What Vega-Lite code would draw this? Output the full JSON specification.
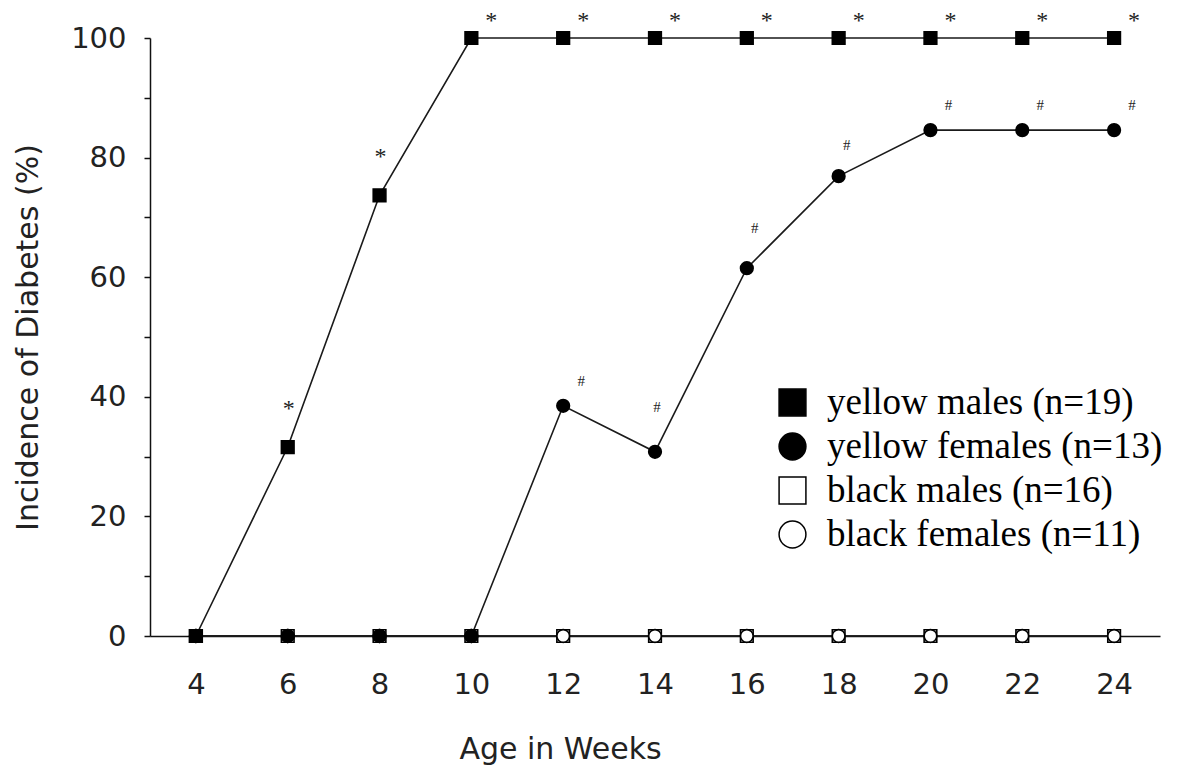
{
  "$schema": "https://vega.github.io/schema/vega-lite/v6.json",
  "width": 1010,
  "height": 598,
  "autosize": "none",
  "padding": {"left": 150, "top": 38, "right": 17, "bottom": 135},
  "background": "white",
  "config": {"view": {"stroke": null}},
  "data": {"values": [
    {"week": 4, "pct": 0, "group": "black males (n=16)"},
    {"week": 6, "pct": 0, "group": "black males (n=16)"},
    {"week": 8, "pct": 0, "group": "black males (n=16)"},
    {"week": 10, "pct": 0, "group": "black males (n=16)"},
    {"week": 12, "pct": 0, "group": "black males (n=16)"},
    {"week": 14, "pct": 0, "group": "black males (n=16)"},
    {"week": 16, "pct": 0, "group": "black males (n=16)"},
    {"week": 18, "pct": 0, "group": "black males (n=16)"},
    {"week": 20, "pct": 0, "group": "black males (n=16)"},
    {"week": 22, "pct": 0, "group": "black males (n=16)"},
    {"week": 24, "pct": 0, "group": "black males (n=16)"},
    {"week": 4, "pct": 0, "group": "black females (n=11)"},
    {"week": 6, "pct": 0, "group": "black females (n=11)"},
    {"week": 8, "pct": 0, "group": "black females (n=11)"},
    {"week": 10, "pct": 0, "group": "black females (n=11)"},
    {"week": 12, "pct": 0, "group": "black females (n=11)"},
    {"week": 14, "pct": 0, "group": "black females (n=11)"},
    {"week": 16, "pct": 0, "group": "black females (n=11)"},
    {"week": 18, "pct": 0, "group": "black females (n=11)"},
    {"week": 20, "pct": 0, "group": "black females (n=11)"},
    {"week": 22, "pct": 0, "group": "black females (n=11)"},
    {"week": 24, "pct": 0, "group": "black females (n=11)"},
    {"week": 4, "pct": 0, "group": "yellow females (n=13)"},
    {"week": 6, "pct": 0, "group": "yellow females (n=13)"},
    {"week": 8, "pct": 0, "group": "yellow females (n=13)"},
    {"week": 10, "pct": 0, "group": "yellow females (n=13)"},
    {"week": 12, "pct": 38.5, "group": "yellow females (n=13)"},
    {"week": 14, "pct": 30.8, "group": "yellow females (n=13)"},
    {"week": 16, "pct": 61.5, "group": "yellow females (n=13)"},
    {"week": 18, "pct": 76.9, "group": "yellow females (n=13)"},
    {"week": 20, "pct": 84.6, "group": "yellow females (n=13)"},
    {"week": 22, "pct": 84.6, "group": "yellow females (n=13)"},
    {"week": 24, "pct": 84.6, "group": "yellow females (n=13)"},
    {"week": 4, "pct": 0, "group": "yellow males (n=19)"},
    {"week": 6, "pct": 31.6, "group": "yellow males (n=19)"},
    {"week": 8, "pct": 73.7, "group": "yellow males (n=19)"},
    {"week": 10, "pct": 100, "group": "yellow males (n=19)"},
    {"week": 12, "pct": 100, "group": "yellow males (n=19)"},
    {"week": 14, "pct": 100, "group": "yellow males (n=19)"},
    {"week": 16, "pct": 100, "group": "yellow males (n=19)"},
    {"week": 18, "pct": 100, "group": "yellow males (n=19)"},
    {"week": 20, "pct": 100, "group": "yellow males (n=19)"},
    {"week": 22, "pct": 100, "group": "yellow males (n=19)"},
    {"week": 24, "pct": 100, "group": "yellow males (n=19)"}
  ]},
  "encoding": {
    "x": {
      "field": "week", "type": "quantitative",
      "scale": {"domain": [3, 25], "nice": false, "zero": false},
      "axis": {
        "values": [4, 6, 8, 10, 12, 14, 16, 18, 20, 22, 24],
        "title": "Age in Weeks",
        "grid": false, "ticks": false, "domainColor": "#111", "domainWidth": 1.5,
        "labelFont": "DejaVu Sans", "labelFontSize": 29, "labelColor": "#222",
        "labelPadding": 34,
        "titleFont": "DejaVu Sans", "titleFontSize": 30, "titleFontWeight": "normal", "titleColor": "#222",
        "titlePadding": 35, "titleX": 410, "titleAlign": "center"
      }
    },
    "y": {
      "field": "pct", "type": "quantitative",
      "scale": {"domain": [0, 100], "nice": false},
      "axis": {
        "values": [0, 10, 20, 30, 40, 50, 60, 70, 80, 90, 100],
        "labelExpr": "datum.value % 20 == 0 ? datum.label : ''",
        "title": "Incidence of Diabetes (%)",
        "grid": false, "tickSize": 6, "tickColor": "#111", "tickWidth": 1.5,
        "domainColor": "#111", "domainWidth": 1.5,
        "labelFont": "DejaVu Sans", "labelFontSize": 29, "labelColor": "#222",
        "labelPadding": 18,
        "titleFont": "DejaVu Sans", "titleFontSize": 30, "titleFontWeight": "normal", "titleColor": "#222",
        "titlePadding": 27
      }
    }
  },
  "layer": [
    {
      "mark": {"type": "line", "stroke": "#1a1a1a", "strokeWidth": 1.6},
      "encoding": {"detail": {"field": "group"}, "order": {"field": "week"}}
    },
    {
      "mark": {"type": "point", "filled": true, "stroke": "black", "strokeWidth": 1.6, "opacity": 1, "size": 160},
      "encoding": {
        "shape": {
          "field": "group", "type": "nominal",
          "scale": {
            "domain": ["yellow males (n=19)", "yellow females (n=13)", "black males (n=16)", "black females (n=11)"],
            "range": ["square", "circle", "square", "circle"]
          },
          "legend": {
            "title": null, "orient": "none", "legendX": 624, "legendY": 346,
            "padding": 0, "symbolSize": 720,
            "labelFont": "Liberation Serif", "labelFontSize": 37, "labelColor": "black",
            "labelOffset": 16, "rowPadding": 6, "labelLimit": 500,
            "encode": {"symbols": {"update": {"stroke": {"value": "black"}, "strokeWidth": {"value": 1.5}}}}
          }
        },
        "fill": {
          "field": "group", "type": "nominal",
          "scale": {
            "domain": ["yellow males (n=19)", "yellow females (n=13)", "black males (n=16)", "black females (n=11)"],
            "range": ["black", "black", "white", "white"]
          },
          "legend": {
            "title": null, "orient": "none", "legendX": 624, "legendY": 346,
            "padding": 0, "symbolSize": 720,
            "labelFont": "Liberation Serif", "labelFontSize": 37, "labelColor": "black",
            "labelOffset": 16, "rowPadding": 6, "labelLimit": 500,
            "encode": {"symbols": {"update": {"stroke": {"value": "black"}, "strokeWidth": {"value": 1.5}}}}
          }
        }
      }
    },
    {
      "transform": [{"filter": "datum.group == 'yellow males (n=19)' && (datum.week == 6 || datum.week == 8)"}],
      "mark": {"type": "text", "text": "*", "font": "Liberation Serif", "fontSize": 24, "color": "#222", "dx": 1, "dy": -38, "baseline": "middle"}
    },
    {
      "transform": [{"filter": "datum.group == 'yellow males (n=19)' && datum.week >= 10"}],
      "mark": {"type": "text", "text": "*", "font": "Liberation Serif", "fontSize": 24, "color": "#222", "dx": 20, "dy": -17, "baseline": "middle"}
    },
    {
      "transform": [{"filter": "datum.group == 'yellow females (n=13)' && (datum.week == 12 || datum.week >= 20)"}],
      "mark": {"type": "text", "text": "#", "font": "Liberation Serif", "fontSize": 15, "color": "#222", "dx": 18, "dy": -25, "baseline": "middle"}
    },
    {
      "transform": [{"filter": "datum.group == 'yellow females (n=13)' && datum.week == 14"}],
      "mark": {"type": "text", "text": "#", "font": "Liberation Serif", "fontSize": 15, "color": "#222", "dx": 2, "dy": -45, "baseline": "middle"}
    },
    {
      "transform": [{"filter": "datum.group == 'yellow females (n=13)' && datum.week == 16"}],
      "mark": {"type": "text", "text": "#", "font": "Liberation Serif", "fontSize": 15, "color": "#222", "dx": 8, "dy": -40, "baseline": "middle"}
    },
    {
      "transform": [{"filter": "datum.group == 'yellow females (n=13)' && datum.week == 18"}],
      "mark": {"type": "text", "text": "#", "font": "Liberation Serif", "fontSize": 15, "color": "#222", "dx": 8, "dy": -31, "baseline": "middle"}
    }
  ]
}
